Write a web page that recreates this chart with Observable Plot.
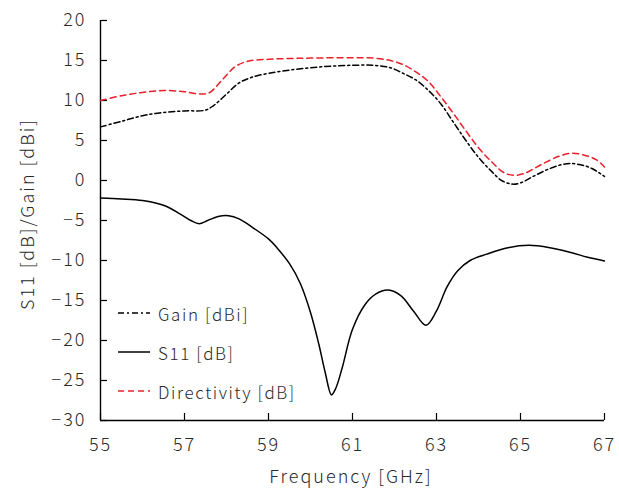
<!DOCTYPE html>
<html><head><meta charset="utf-8">
<script src="https://cdn.jsdelivr.net/npm/d3@7"></script>
<script src="https://cdn.jsdelivr.net/npm/@observablehq/plot@0.6"></script>
<style>
body{margin:0;background:#fff;font-family:"Noto Sans CJK JP","Noto Sans",sans-serif;}
#wrap{position:relative;width:619px;height:488px;}
#legend{position:absolute;left:118px;top:300px;font-size:17px;color:#2a2a2a;letter-spacing:1.6px;font-weight:300;}
.row{position:absolute;left:0;height:26px;display:flex;align-items:center;white-space:nowrap;}
.row svg{margin-right:8px;}
svg text{letter-spacing:2px;font-weight:300;}
</style></head>
<body><div id="wrap"><div id="legend"></div></div>
<script>
const gainFreq = [55,55.5,56,56.5,57,57.5,57.7,58,58.3,58.6,59,59.5,60,60.5,61,61.5,61.9,62.2,62.5,62.8,63.1,63.4,63.7,64,64.3,64.55,64.8,65,65.3,65.7,66.1,66.4,66.7,67];
const gainVal  = [6.7,7.4,8.1,8.5,8.7,8.8,9.4,10.8,12.2,12.9,13.4,13.8,14.1,14.3,14.4,14.4,14.1,13.4,12.6,11.3,9.6,7.3,5.0,2.9,1.2,0.0,-0.45,-0.3,0.5,1.5,2.1,2.0,1.5,0.5];
const dirFreq  = [55,55.5,56,56.5,57,57.4,57.6,57.9,58.2,58.5,59,59.5,60,61,61.5,61.9,62.2,62.5,62.8,63.1,63.4,63.7,64,64.3,64.6,64.85,65.1,65.5,65.9,66.2,66.5,66.8,67];
const dirVal   = [10.0,10.6,11.0,11.25,11.1,10.8,11.0,12.6,14.2,14.9,15.15,15.25,15.3,15.35,15.3,15.0,14.5,13.6,12.4,10.5,8.4,6.2,4.1,2.4,1.0,0.65,0.9,2.0,3.0,3.4,3.2,2.6,1.7];
const s11Freq  = [55,55.5,56,56.5,56.9,57.15,57.35,57.55,57.8,58.05,58.3,58.6,59,59.2,59.5,59.76,60.0,60.2,60.35,60.5,60.6,60.75,61.0,61.3,61.55,61.85,62.15,62.45,62.75,63.0,63.25,63.5,63.8,64.2,64.7,65.2,65.7,66.2,66.6,67];
const s11Val   = [-2.2,-2.3,-2.5,-3.1,-4.2,-5.0,-5.4,-5.0,-4.5,-4.4,-4.8,-5.8,-7.3,-8.4,-10.4,-12.9,-16.5,-20.5,-24.0,-26.8,-26.0,-23.5,-18.6,-15.5,-14.2,-13.7,-14.4,-16.3,-18.1,-16.3,-13.3,-11.3,-10.0,-9.2,-8.4,-8.1,-8.4,-9.0,-9.6,-10.05];
const xTicks = [55,57,59,61,63,65,67];
const yTicks = [-30,-25,-20,-15,-10,-5,0,5,10,15,20];
const seriesNames = ["Gain [dBi]","S11 [dB]","Directivity [dB]"];
const seriesColors = ["#000","#000","#e8202a"];
const seriesDash = ["6,3,2,3","none","6,4"];

const toRows = (fs, vs) => fs.map((f,i)=>({f, v: vs[i]}));
const gain = toRows(gainFreq, gainVal);
const dir = toRows(dirFreq, dirVal);
const s11 = toRows(s11Freq, s11Val);

const font = '"Noto Sans CJK JP","Noto Sans",sans-serif';
const chart = Plot.plot({
  width: 619, height: 488,
  marginLeft: 100, marginRight: 15, marginTop: 20, marginBottom: 68,
  style: {fontFamily: font, fontSize: "18px", color: "#2a2a2a", background: "#fff"},
  x: {domain: [55,67], ticks: xTicks},
  y: {domain: [-30,20], ticks: yTicks},
  marks: [
    Plot.axisX({ticks: xTicks, tickSize: 0, tickPadding: 18, fontSize: 18, label: null}),
    Plot.axisX({ticks: xTicks, tickSize: -7, text: null, label: null, stroke: "#000", strokeWidth: 1.2}),
    Plot.axisY({ticks: yTicks, tickSize: 0, tickPadding: 14, fontSize: 18, label: null, tickFormat: d => d < 0 ? "\u2212" + Math.abs(d) : String(d)}),
    Plot.axisY({ticks: yTicks, tickSize: -7, text: null, label: null, stroke: "#000", strokeWidth: 1.2}),
    Plot.ruleX([xTicks[0]], {stroke: "#000", strokeWidth: 1.4}),
    Plot.ruleY([yTicks[0]], {stroke: "#000", strokeWidth: 1.4}),
    Plot.line(s11, {x: "f", y: "v", stroke: seriesColors[1], strokeWidth: 1.5, curve: "catmull-rom"}),
    Plot.line(gain, {x: "f", y: "v", stroke: seriesColors[0], strokeWidth: 1.5, strokeDasharray: seriesDash[0], curve: "catmull-rom"}),
    Plot.line(dir, {x: "f", y: "v", stroke: seriesColors[2], strokeWidth: 1.5, strokeDasharray: seriesDash[2], curve: "catmull-rom"})
  ]
});
const svg = d3.select(chart);
svg.append("text").attr("x", 351).attr("y", 483).attr("text-anchor","middle")
  .attr("font-size", 18).attr("fill","#2a2a2a").attr("font-family", font).text("Frequency [GHz]");
svg.append("text").attr("transform","translate(26,214) rotate(-90)").attr("text-anchor","middle")
  .attr("dominant-baseline","central").attr("font-size", 18).attr("fill","#2a2a2a").attr("font-family", font).text("S11 [dB]/Gain [dBi]");
document.getElementById("wrap").prepend(chart);

const legend = d3.select("#legend");
seriesNames.forEach((name, i) => {
  const row = legend.append("div").attr("class","row").style("top", (i*39) + "px");
  const s = row.append("svg").attr("width", 32).attr("height", 4);
  s.append("line").attr("x1",0).attr("x2",32).attr("y1",2).attr("y2",2)
    .attr("stroke", seriesColors[i]).attr("stroke-width",1.5)
    .attr("stroke-dasharray", seriesDash[i] === "none" ? null : seriesDash[i]);
  row.append("span").text(name);
});
</script></body></html>
